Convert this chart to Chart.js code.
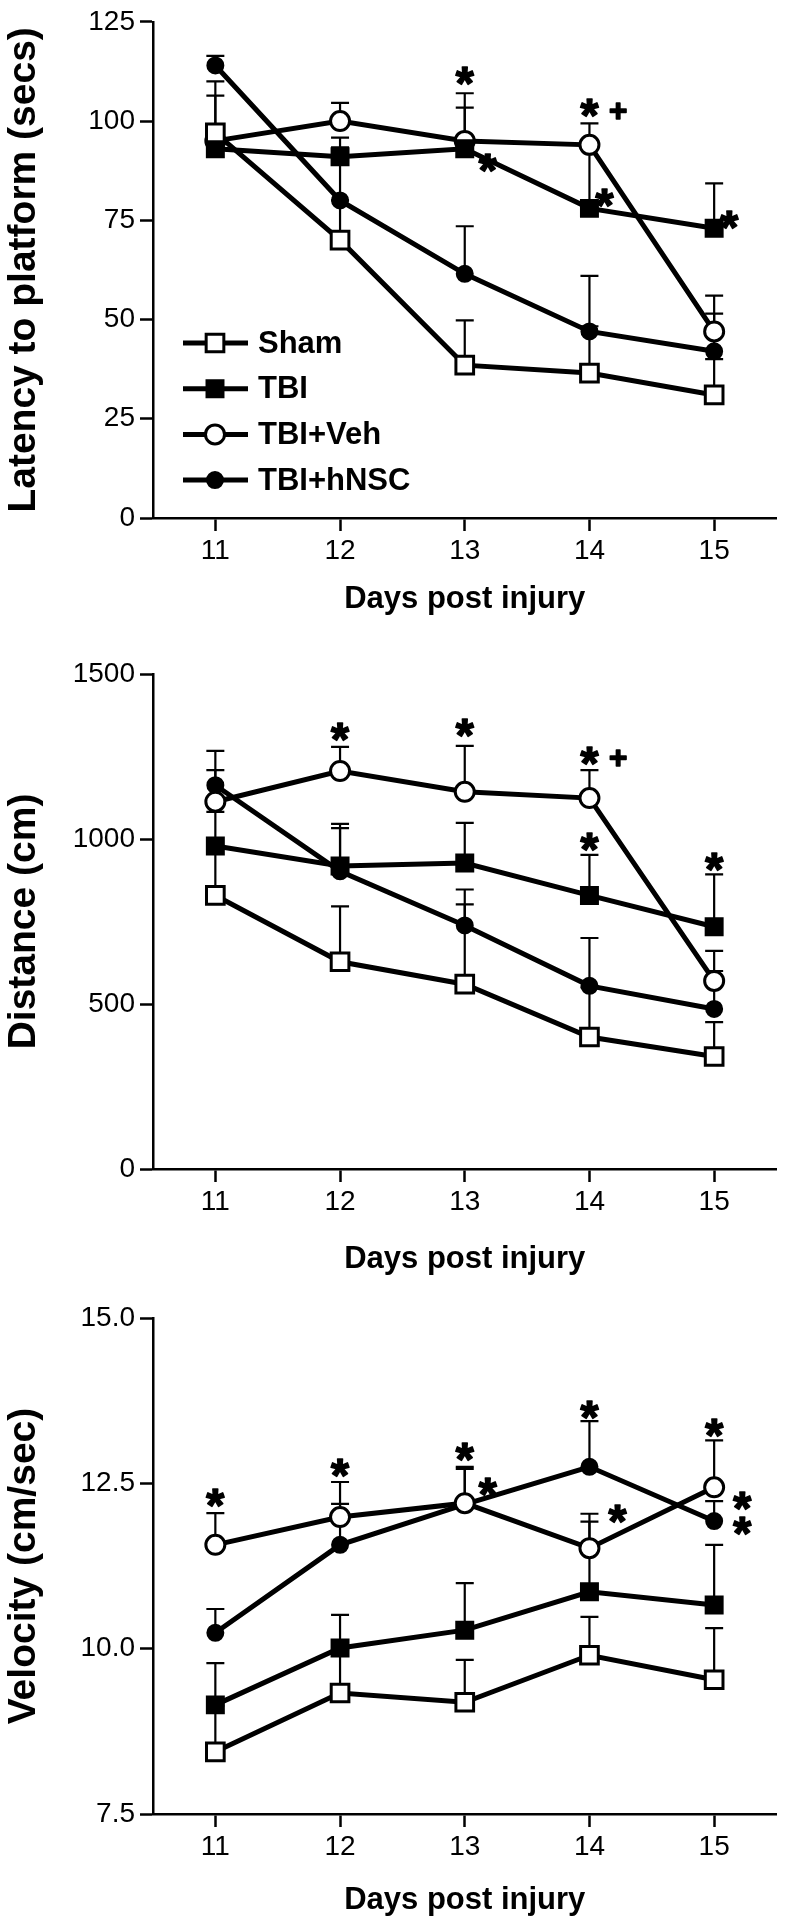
<!DOCTYPE html>
<html>
<head>
<meta charset="utf-8">
<script src="https://cdn.jsdelivr.net/npm/chart.js@4.4.0/dist/chart.umd.min.js"></script>
<style>
  html, body { margin: 0; padding: 0; background: #fff; }
  .panel { position: relative; width: 792px; height: 640px; }
</style>
</head>
<body>
<div class="panel"><canvas id="latencyChart"></canvas></div>
<div class="panel"><canvas id="distanceChart"></canvas></div>
<div class="panel"><canvas id="velocityChart"></canvas></div>
<script>
const days = ['11', '12', '13', '14', '15'];
const groups = ['Sham', 'TBI', 'TBI+Veh', 'TBI+hNSC'];

// latency to platform (secs), mean and SEM (upper bar only)
const latencySham = [97, 70, 38.5, 36.5, 31];
const latencyTBI = [93, 91, 93, 78, 73];
const latencyVeh = [95, 100, 95, 94, 47];
const latencyHNSC = [114, 80, 61.5, 47, 42];
const latencyShamErr = [13, 10, 11.3, 11.8, 9];
const latencyTBIErr = [5, 4.8, 10.4, 15, 11.3];
const latencyVehErr = [11.4, 4.6, 12, 5.4, 9];
const latencyHNSCErr = [2.4, 13.4, 12, 14, 9.5];

// distance (cm)
const distanceSham = [829, 628, 560, 400, 341];
const distanceTBI = [979, 918, 927, 829, 734];
const distanceVeh = [1113, 1206, 1143, 1124, 570];
const distanceHNSC = [1163, 902, 738, 555, 485];
const distanceShamErr = [145, 168, 242, 150, 104];
const distanceTBIErr = [103, 128, 122, 123, 159];
const distanceVehErr = [96, 73, 139, 85, 91];
const distanceHNSCErr = [104, 131, 109, 145, 115];

// velocity (cm/sec)
const velocitySham = [8.44, 9.33, 9.19, 9.90, 9.53];
const velocityTBI = [9.15, 10.01, 10.28, 10.86, 10.66];
const velocityVeh = [11.57, 11.99, 12.20, 11.52, 12.44];
const velocityHNSC = [10.24, 11.57, 12.18, 12.75, 11.93];
const velocityShamErr = [0.7, 0.65, 0.64, 0.58, 0.78];
const velocityTBIErr = [0.63, 0.50, 0.71, 1.06, 0.91];
const velocityVehErr = [0.48, 0.53, 0.55, 0.52, 0.71];
const velocityHNSCErr = [0.36, 0.62, 0.54, 0.69, 0.3];

// significance marks (day, value)
const latencyMarks = [
    { day: '13', y: 111.4, text: '*', side: 'top' },
    { day: '13', y: 89.5, text: '*', side: 'right' },
    { day: '14', y: 103.4, text: '*', side: 'top' },
    { day: '14', y: 102.6, text: '+', side: 'plus' },
    { day: '14', y: 80.5, text: '*', side: 'near' },
    { day: '15', y: 75, text: '*', side: 'near' }
];
const distanceMarks = [
    { day: '12', y: 1324, text: '*', side: 'top' },
    { day: '13', y: 1336, text: '*', side: 'top' },
    { day: '14', y: 1252, text: '*', side: 'top' },
    { day: '14', y: 1248, text: '+', side: 'plus' },
    { day: '14', y: 990, text: '*', side: 'top' },
    { day: '15', y: 930, text: '*', side: 'top' }
];
const velocityMarks = [
    { day: '11', y: 12.28, text: '*', side: 'top' },
    { day: '12', y: 12.73, text: '*', side: 'top' },
    { day: '13', y: 12.97, text: '*', side: 'top' },
    { day: '13', y: 12.44, text: '*', side: 'right' },
    { day: '14', y: 13.61, text: '*', side: 'top' },
    { day: '14', y: 12.04, text: '*', side: 'far' },
    { day: '15', y: 13.34, text: '*', side: 'top' },
    { day: '15', y: 12.23, text: '*', side: 'far' },
    { day: '15', y: 11.86, text: '*', side: 'far' }
];

const FONT = '"Liberation Sans", Arial, Helvetica, sans-serif';
const markers = [
    { style: 'rect', radius: 12.5, fill: '#fff', border: 3 },
    { style: 'rect', radius: 12, fill: '#000', border: 2 },
    { style: 'circle', radius: 9.5, fill: '#fff', border: 3 },
    { style: 'circle', radius: 8, fill: '#000', border: 2 }
];
const sideOffset = { top: 0, near: 15, right: 23, far: 28, plus: 29 };

function drawMarker(ctx, m, x, y) {
    ctx.save();
    ctx.fillStyle = m.fill;
    ctx.strokeStyle = '#000';
    ctx.lineWidth = m.border;
    ctx.beginPath();
    if (m.style === 'rect') {
        const h = m.radius * Math.SQRT1_2;
        ctx.rect(x - h, y - h, 2 * h, 2 * h);
    } else {
        ctx.arc(x, y, m.radius, 0, Math.PI * 2);
    }
    ctx.fill();
    ctx.stroke();
    ctx.restore();
}

function drawGlyph(ctx, text, cx, cy, width) {
    ctx.font = 'bold 100px ' + FONT;
    let m = ctx.measureText(text);
    const size = 100 * width / (m.actualBoundingBoxLeft + m.actualBoundingBoxRight);
    ctx.font = 'bold ' + size + 'px ' + FONT;
    m = ctx.measureText(text);
    ctx.textAlign = 'left';
    ctx.textBaseline = 'alphabetic';
    const gx = cx - (m.actualBoundingBoxRight - m.actualBoundingBoxLeft) / 2;
    const gy = cy + (m.actualBoundingBoxAscent - m.actualBoundingBoxDescent) / 2;
    ctx.fillText(text, gx, gy);
    ctx.lineWidth = 1.6;
    ctx.lineJoin = 'round';
    ctx.strokeText(text, gx, gy);
}

const errorBars = {
    id: 'errorBars',
    beforeDatasetsDraw(chart) {
        const ctx = chart.ctx;
        const yScale = chart.scales.y;
        ctx.save();
        ctx.strokeStyle = '#000';
        ctx.lineWidth = 2.2;
        chart.data.datasets.forEach((ds, i) => {
            chart.getDatasetMeta(i).data.forEach((pt, j) => {
                const top = yScale.getPixelForValue(ds.data[j] + ds.errors[j]);
                ctx.beginPath();
                ctx.moveTo(pt.x, pt.y);
                ctx.lineTo(pt.x, top);
                ctx.moveTo(pt.x - 9, top);
                ctx.lineTo(pt.x + 9, top);
                ctx.stroke();
            });
        });
        ctx.restore();
    }
};

const sigMarks = {
    id: 'sigMarks',
    afterDatasetsDraw(chart, args, opts) {
        const ctx = chart.ctx;
        ctx.save();
        ctx.fillStyle = '#000';
        ctx.strokeStyle = '#000';
        (opts.marks || []).forEach(mk => {
            const x = chart.scales.x.getPixelForValue(days.indexOf(mk.day)) + sideOffset[mk.side];
            const y = chart.scales.y.getPixelForValue(mk.y);
            drawGlyph(ctx, mk.text, x, y, mk.text === '+' ? 16 : 18);
        });
        ctx.restore();
    }
};

const groupLegend = {
    id: 'groupLegend',
    afterDatasetsDraw(chart, args, opts) {
        if (!opts.show) return;
        const ctx = chart.ctx;
        ctx.save();
        chart.data.datasets.forEach((ds, i) => {
            const y = opts.top + i * opts.step;
            ctx.strokeStyle = '#000';
            ctx.lineWidth = 5;
            ctx.beginPath();
            ctx.moveTo(opts.x, y);
            ctx.lineTo(opts.x + 65, y);
            ctx.stroke();
            drawMarker(ctx, markers[i], opts.x + 32, y);
            ctx.fillStyle = '#000';
            ctx.font = 'bold 31px ' + FONT;
            ctx.textAlign = 'left';
            ctx.textBaseline = 'middle';
            ctx.fillText(ds.label, opts.x + 75, y + 1);
        });
        ctx.restore();
    }
};

function makePanel(id, series, errs, marks, yOpts, lay) {
    const datasets = series.map((s, i) => ({
        label: groups[i],
        data: s,
        errors: errs[i],
        borderColor: '#000',
        borderWidth: 5,
        tension: 0,
        pointStyle: markers[i].style,
        pointRadius: markers[i].radius,
        pointBackgroundColor: markers[i].fill,
        pointBorderColor: '#000',
        pointBorderWidth: markers[i].border
    }));
    return new Chart(document.getElementById(id), {
        type: 'line',
        data: { labels: days, datasets: datasets },
        plugins: [errorBars, sigMarks, groupLegend],
        options: {
            responsive: true,
            maintainAspectRatio: false,
            animation: false,
            events: [],
            layout: { padding: { top: lay.top, right: 7, left: 0, bottom: 0 } },
            plugins: {
                legend: { display: false },
                tooltip: { enabled: false },
                sigMarks: { marks: marks },
                groupLegend: lay.legend || { show: false }
            },
            scales: {
                x: {
                    offset: true,
                    border: { display: true, color: '#000', width: 2.5 },
                    grid: { drawOnChartArea: false, drawTicks: true, tickLength: 13, tickWidth: 2.5, tickColor: '#000', offset: false },
                    ticks: { color: '#000', padding: 3, font: { family: FONT, size: 28 } },
                    title: {
                        display: true, text: 'Days post injury', color: '#000',
                        font: { family: FONT, size: 31, weight: 'bold' },
                        padding: { top: 0, bottom: lay.titlePad }
                    },
                    afterFit: s => { s.height = lay.xHeight; }
                },
                y: {
                    min: yOpts.min,
                    max: yOpts.max,
                    border: { display: true, color: '#000', width: 2.5 },
                    grid: { drawOnChartArea: false, drawTicks: true, tickLength: 13, tickWidth: 2.5, tickColor: '#000' },
                    ticks: {
                        stepSize: yOpts.step, color: '#000', padding: 5,
                        font: { family: FONT, size: 28 },
                        callback: v => yOpts.decimals ? v.toFixed(yOpts.decimals) : v
                    },
                    title: {
                        display: true, text: yOpts.title, color: '#000',
                        font: { family: FONT, size: 39, weight: 'bold' },
                        padding: { top: 1, bottom: 0 }
                    },
                    afterFit: s => { s.width = 153; }
                }
            }
        }
    });
}

document.addEventListener('DOMContentLoaded', () => {
    makePanel('latencyChart',
        [latencySham, latencyTBI, latencyVeh, latencyHNSC],
        [latencyShamErr, latencyTBIErr, latencyVehErr, latencyHNSCErr],
        latencyMarks,
        { min: 0, max: 125, step: 25, title: 'Latency to platform (secs)' },
        { top: 21, xHeight: 122, titlePad: 22, legend: { show: true, x: 183, top: 343, step: 45.7 } });

    makePanel('distanceChart',
        [distanceSham, distanceTBI, distanceVeh, distanceHNSC],
        [distanceShamErr, distanceTBIErr, distanceVehErr, distanceHNSCErr],
        distanceMarks,
        { min: 0, max: 1500, step: 500, title: 'Distance (cm)' },
        { top: 34, xHeight: 111, titlePad: 2 });

    makePanel('velocityChart',
        [velocitySham, velocityTBI, velocityVeh, velocityHNSC],
        [velocityShamErr, velocityTBIErr, velocityVehErr, velocityHNSCErr],
        velocityMarks,
        { min: 7.5, max: 15, step: 2.5, decimals: 1, title: 'Velocity (cm/sec)' },
        { top: 38, xHeight: 106, titlePad: 1 });
});
</script>
</body>
</html>
